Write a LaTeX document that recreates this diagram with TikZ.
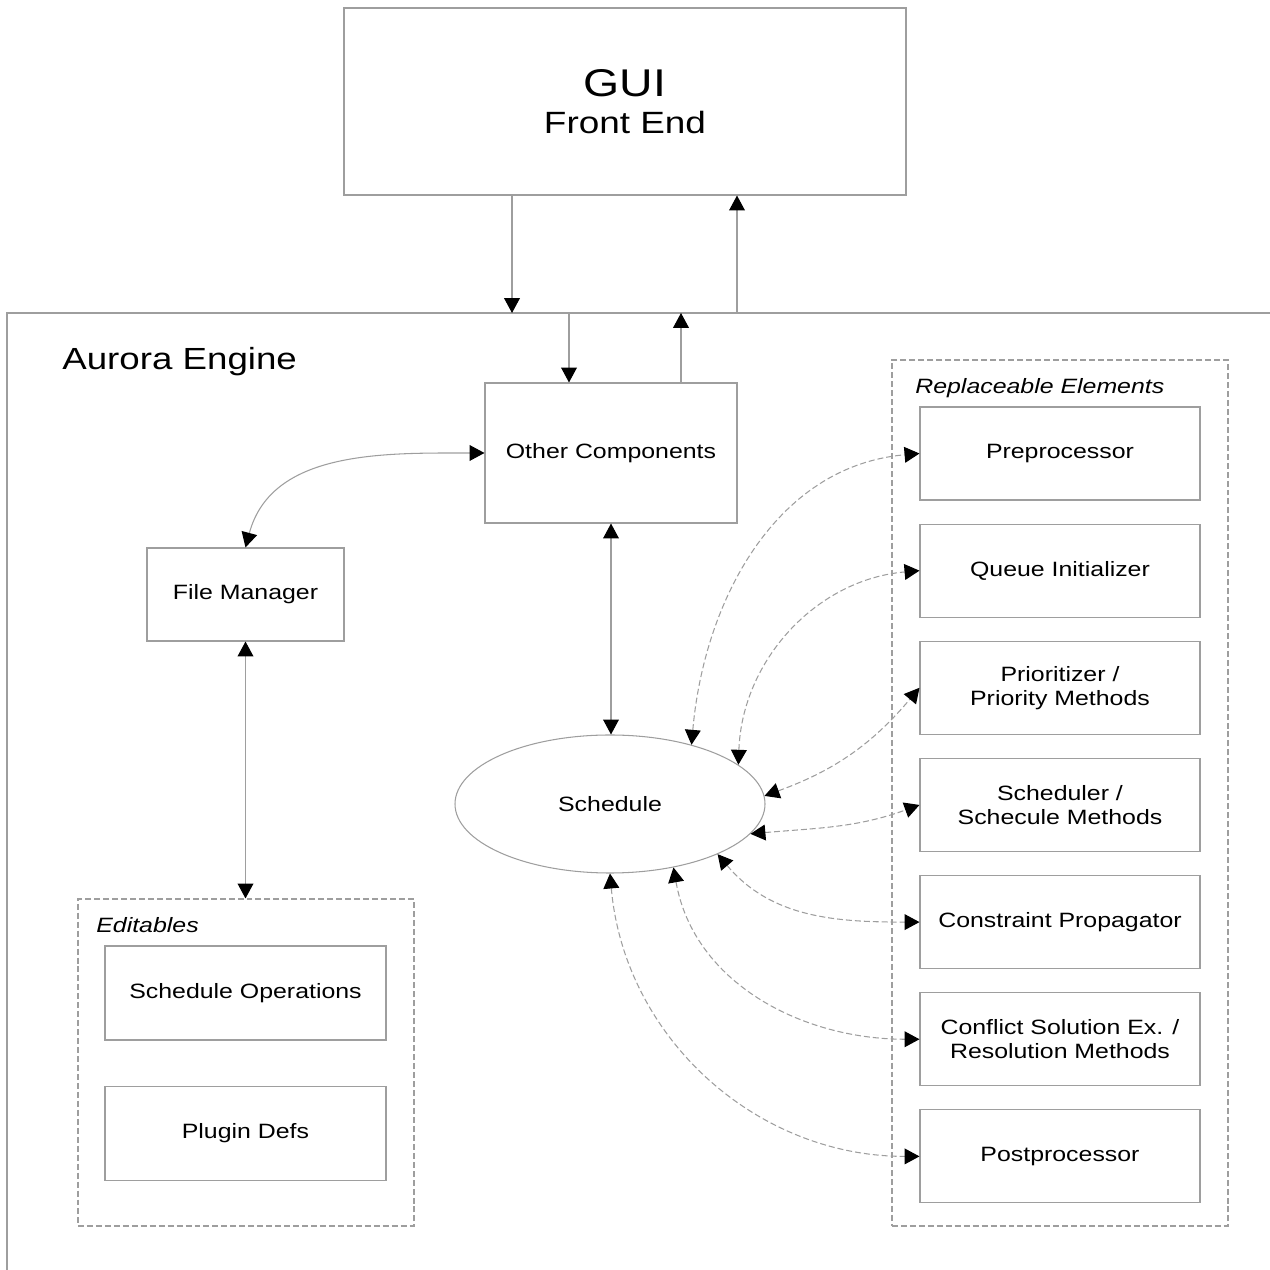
\documentclass[tikz,border=0pt]{standalone}
\usepackage{fontspec}
\setmainfont{Liberation Sans}[FakeStretch=1.2]
\usetikzlibrary{arrows.meta,shapes.geometric}

\definecolor{linegray}{gray}{0.62}

\tikzset{
  >={Triangle[length=8.5pt,width=9pt,color=black]},
  box/.style={draw=linegray, line width=0.6pt, minimum width=5.6cm, minimum height=1.86cm,
    align=center, font=\fontsize{11.8}{13.6}\selectfont},
  group/.style={draw=linegray, line width=0.6pt, dash pattern=on 3.4pt off 1.7pt},
  flow/.style={draw=linegray, line width=0.6pt},
  link/.style={draw=linegray, line width=0.6pt, dash pattern=on 3.4pt off 1.7pt},
  grouplabel/.style={anchor=west, inner sep=0pt, font=\fontsize{11.8}{13.6}\selectfont\itshape},
}

\begin{document}
\begin{tikzpicture}
\useasboundingbox (0,0) rectangle (25.4,25.4);
% front end
\node[box, minimum width=11.24cm, minimum height=3.74cm, font=\fontsize{17.5}{21}\selectfont] (gui) at (12.5,23.37)
  {{\fontsize{22}{21}\selectfont GUI}\\Front End};
% engine frame
\coordinate (engtop) at (0.14,19.14);
\draw[flow] (25.4,19.14) -- (engtop) -- (0.14,0);
\node[anchor=west, inner sep=0pt, font=\fontsize{17.4}{20}\selectfont] (engname) at (1.24,18.16) {Aurora Engine};
\coordinate (in1) at (10.24,19.14);
\coordinate (out1) at (14.74,19.14);
\coordinate (in2) at (11.38,19.14);
\coordinate (out2) at (13.62,19.14);
% core
\node[box, minimum width=5.04cm, minimum height=2.8cm] (oc) at (12.22,16.34) {Other Components};
\node[box, minimum width=3.94cm] (fm) at (4.91,13.51) {File Manager};
\node[ellipse, draw=linegray, line width=0.6pt, minimum width=6.2cm, minimum height=2.76cm, inner sep=0pt,
  font=\fontsize{11.8}{13.6}\selectfont] (sch) at (12.2,9.32) {Schedule};
% editables
\node[group, minimum width=6.72cm, minimum height=6.54cm] (edit) at (4.92,4.15) {};
\node[grouplabel] (editlabel) at (1.92,6.90) {Editables};
\node[box, minimum width=5.62cm, minimum height=1.88cm] (ops) at (4.91,5.54) {Schedule Operations};
\node[box, minimum width=5.62cm, minimum height=1.88cm] (plug) at (4.91,2.73) {Plugin Defs};
% replaceable elements
\node[group, minimum width=6.72cm, minimum height=17.32cm] (repl) at (21.2,9.54) {};
\node[grouplabel] (repllabel) at (18.3,17.64) {Replaceable Elements};
\foreach \name/\txt [count=\i from 0] in {pre/Preprocessor, qi/Queue Initializer,
    pri/{Prioritizer /\\Priority Methods}, sched/{Scheduler /\\Schecule Methods},
    cp/Constraint Propagator, cr/{Conflict Solution Ex. /\\Resolution Methods}, post/Postprocessor}
  \node[box] (\name) at (21.2,16.33-2.343*\i) {\txt};
% connectors
\draw[flow,->] (gui.south -| in1) -- (in1);
\draw[flow,->] (out1) -- (gui.south -| out1);
\draw[flow,->] (in2) -- (oc.north -| in2);
\draw[flow,->] (oc.north -| out2) -- (out2);
\draw[flow,<->] (fm.north) to[out=75,in=180] (oc.west);
\draw[flow,<->] (fm.south) -- (fm.south |- edit.north);
\draw[flow,<->] (oc.south) -- (oc.south |- sch.north);
\draw[link,<->] (sch.36) to[out=85,in=185] (pre.west);
\draw[link,<->] (sch.17) to[out=88,in=185] (qi.west);
\draw[link,<->] (sch.3) to[out=20,in=230] (pri.west);
\draw[link,<->] (sch.-12) to[out=5,in=200] (sched.west);
\draw[link,<->] (sch.-25) to[out=-50,in=180] (cp.west);
\draw[link,<->] (sch.-45) to[out=-80,in=180] (cr.west);
\draw[link,<->] (sch.-90) to[out=-85,in=180] (post.west);
\end{tikzpicture}
\end{document}
